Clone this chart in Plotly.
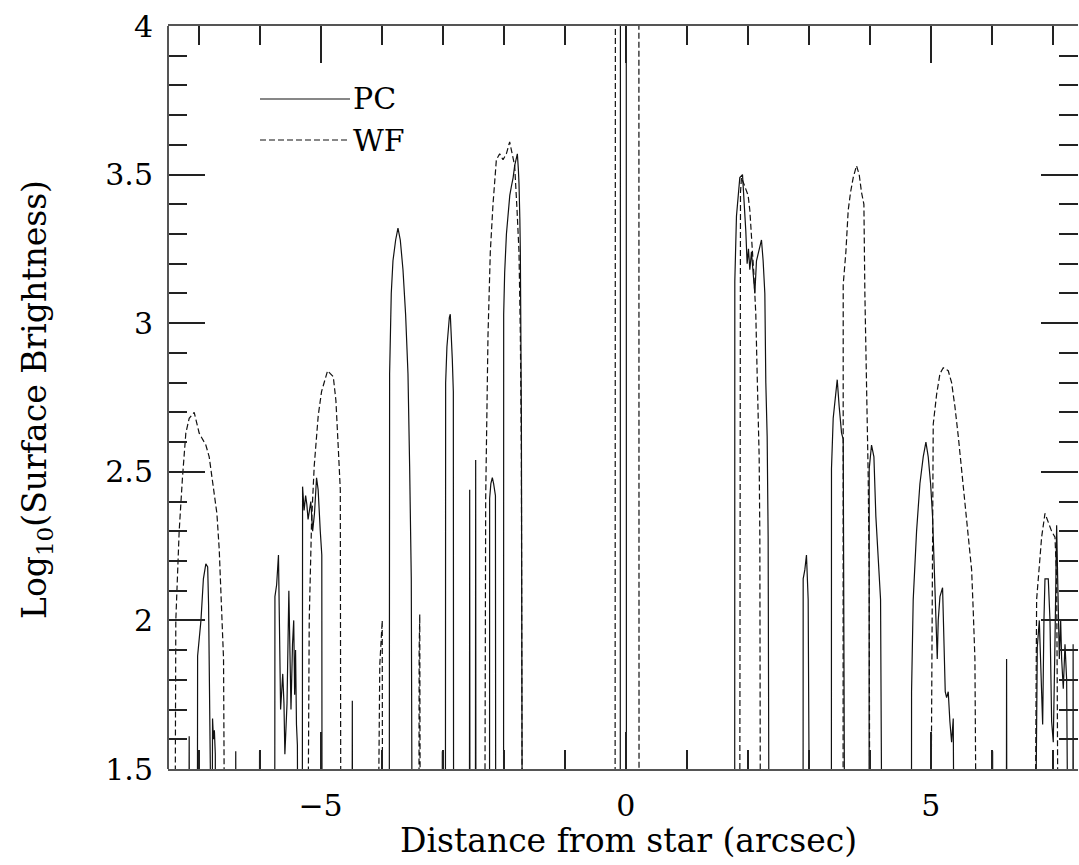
import plotly.graph_objects as go

# Values below the plotted floor (log SB < 1.5) are drawn off the axis
LOW = 1.0
TOP = 4.6  # central saturated region, above the axis top

pc_x = [-7.50,
        -7.160, -7.153, -7.146,
        -7.020, -7.015, -6.960, -6.920, -6.880, -6.850, -6.835, -6.828, -6.810,
        -6.780, -6.770, -6.755, -6.740, -6.725, -6.720,
        -6.395, -6.390, -6.385,
        -6.005, -6.000, -5.995,
        -5.752, -5.748, -5.720, -5.690, -5.675, -5.655, -5.620, -5.600, -5.585, -5.570,
        -5.550, -5.520, -5.500, -5.485, -5.460, -5.440, -5.425, -5.410, -5.395, -5.380, -5.370,
        -5.300, -5.295, -5.270, -5.245, -5.225, -5.205, -5.186, -5.160, -5.130, -5.100,
        -5.066, -5.040, -5.005, -4.980, -4.975,
        -4.485, -4.480, -4.475,
        -3.875, -3.869, -3.842, -3.814, -3.770, -3.732, -3.694, -3.650, -3.607, -3.568,
        -3.541, -3.514, -3.497,
        -3.010, -3.005, -3.000,
        -2.955, -2.951, -2.930, -2.913, -2.890, -2.875, -2.860, -2.842, -2.825, -2.820,
        -2.562, -2.557, -2.552,
        -2.464, -2.459, -2.454,
        -2.232, -2.230, -2.210, -2.186, -2.165, -2.148, -2.135, -2.130,
        -2.002, -2.000, -1.984, -1.955, -1.929, -1.900, -1.874, -1.845, -1.820, -1.795,
        -1.776, -1.760, -1.749, -1.735, -1.727, -1.710, -1.700, -1.694,
        -1.005, -1.000, -0.995,
        -0.090, -0.087, 0.008, 0.011,
        1.785, 1.787, 1.814, 1.842, 1.869, 1.913, 1.934, 1.967, 1.989, 2.011, 2.033,
        2.060, 2.087, 2.115, 2.142, 2.186, 2.224, 2.251, 2.279, 2.295, 2.317, 2.333, 2.350,
        2.905, 2.907, 2.934, 2.961, 2.989, 3.005, 3.016,
        3.369, 3.371, 3.399, 3.426, 3.465, 3.497, 3.536, 3.563, 3.574, 3.579, 3.590,
        3.987, 3.989, 4.027, 4.066, 4.098, 4.137, 4.175, 4.202,
        4.681, 4.683, 4.710, 4.765, 4.820, 4.874, 4.918, 4.956, 4.995, 5.027, 5.049,
        5.082, 5.104, 5.120, 5.148, 5.191, 5.213, 5.235, 5.257, 5.284, 5.311, 5.339,
        5.366, 5.383,
        6.006, 6.011, 6.016,
        6.235, 6.240, 6.245,
        6.705, 6.743, 6.776, 6.803, 6.831, 6.852, 6.869, 6.923, 6.951, 6.978, 7.005,
        7.033, 7.060, 7.077, 7.104, 7.126, 7.142, 7.169, 7.197, 7.224, 7.251,
        7.325, 7.330, 7.335,
        7.41]
pc_y = [LOW,
        LOW, 1.61, LOW,
        LOW, 1.88, 2.00, 2.14, 2.19, 2.18, 2.05, 1.82, LOW,
        LOW, 1.67, 1.60, 1.63, 1.55, LOW,
        LOW, 1.56, LOW,
        LOW, 1.56, LOW,
        LOW, 2.08, 2.12, 2.22, 2.00, 1.70, 1.82, 1.72, 1.55, 1.66,
        1.72, 2.10, 1.80, 1.70, 1.92, 2.00, 1.75, 1.90, 1.65, 1.58, LOW,
        LOW, 2.45, 2.37, 2.42, 2.39, 2.34, 2.37, 2.40, 2.30, 2.36,
        2.48, 2.44, 2.30, 2.22, LOW,
        LOW, 1.73, LOW,
        LOW, 2.83, 3.10, 3.21, 3.28, 3.32, 3.28, 3.18, 3.03, 2.83,
        2.52, 2.14, LOW,
        LOW, 1.56, LOW,
        LOW, 2.80, 2.92, 2.97, 3.02, 3.03, 2.98, 2.88, 2.77, LOW,
        LOW, 2.44, LOW,
        LOW, 2.54, LOW,
        LOW, 2.41, 2.46, 2.48, 2.46, 2.43, 2.42, LOW,
        LOW, 3.03, 3.17, 3.30, 3.375, 3.43, 3.46, 3.49, 3.53, 3.55,
        3.57, 3.52, 3.47, 3.35, 3.24, 2.69, 2.00, LOW,
        LOW, 1.56, LOW,
        LOW, TOP, TOP, LOW,
        LOW, 3.14, 3.36, 3.44, 3.49, 3.50, 3.43, 3.31, 3.20, 3.25, 3.18,
        3.24, 3.17, 3.10, 3.21, 3.25, 3.28, 3.21, 3.10, 2.80, 2.62, 2.28, LOW,
        LOW, 2.14, 2.17, 2.22, 2.07, 1.73, LOW,
        LOW, 2.51, 2.68, 2.74, 2.81, 2.72, 2.63, 2.61, 2.28, 1.81, LOW,
        LOW, 2.51, 2.59, 2.55, 2.35, 2.21, 2.07, LOW,
        LOW, 1.76, 2.07, 2.30, 2.46, 2.55, 2.60, 2.55, 2.46, 2.35, 2.21,
        2.07, 1.87, 2.00, 2.08, 2.11, 1.93, 1.76, 1.74, 1.76, 1.66, 1.59,
        1.67, LOW,
        LOW, 1.56, LOW,
        LOW, 1.87, LOW,
        LOW, 1.91, 2.00, 1.80, 1.65, 2.00, 2.14, 2.14, 2.00, 1.66, 1.59,
        1.93, 2.32, 2.14, 1.87, 2.00, 1.87, 1.77, 1.92, 1.80, LOW,
        LOW, 1.92, LOW,
        LOW]

wf_x = [-7.50,
        -7.388, -7.372, -7.317, -7.263, -7.208, -7.153, -7.071, -6.989, -6.880, -6.825,
        -6.770, -6.699, -6.661, -6.623, -6.590, -6.568,
        -5.213, -5.186, -5.148, -5.104, -5.038, -4.984, -4.885, -4.792, -4.749, -4.710,
        -4.677, -4.667,
        -4.066, -4.030, -3.990, -3.984,
        -3.390, -3.385, -3.375, -3.365,
        -2.312, -2.295, -2.257, -2.219, -2.175, -2.120, -2.066, -2.011, -1.956, -1.902,
        -1.858, -1.820, -1.781, -1.749, -1.727, -1.710, -1.694,
        -0.175, -0.169, 0.215, 0.218,
        1.867, 1.880, 1.896, 1.951, 2.005, 2.033, 2.060, 2.076, 2.098, 2.131, 2.153,
        2.186, 2.197, 2.208,
        3.561, 3.563, 3.607, 3.645, 3.683, 3.727, 3.781, 3.825, 3.863, 3.902, 3.918,
        3.945, 3.973, 3.989, 4.000,
        4.993, 5.038, 5.093, 5.148, 5.202, 5.284, 5.339, 5.393, 5.448, 5.503, 5.557,
        5.612, 5.667, 5.694, 5.721, 5.749,
        6.703, 6.732, 6.776, 6.814, 6.869, 6.923, 6.978, 7.033, 7.060, 7.071, 7.088,
        7.41]
wf_y = [LOW,
        LOW, 2.00, 2.30, 2.48, 2.63, 2.68, 2.70, 2.63, 2.59, 2.55,
        2.47, 2.36, 2.24, 2.07, 1.87, LOW,
        LOW, 2.00, 2.33, 2.52, 2.69, 2.77, 2.84, 2.82, 2.74, 2.58,
        2.44, LOW,
        LOW, 1.85, 2.00, LOW,
        LOW, 1.90, 2.02, LOW,
        LOW, 2.41, 2.96, 3.24, 3.40, 3.55, 3.57, 3.55, 3.57, 3.61,
        3.56, 3.53, 3.38, 3.24, 2.96, 2.55, LOW,
        LOW, TOP, TOP, LOW,
        LOW, 3.44, 3.49, 3.46, 3.43, 3.38, 3.31, 3.24, 3.17, 3.03, 2.83,
        2.55, 2.28, LOW,
        LOW, 3.13, 3.24, 3.38, 3.44, 3.49, 3.53, 3.50, 3.44, 3.40, 3.10,
        2.83, 2.48, 2.14, LOW,
        LOW, 2.66, 2.76, 2.83, 2.85, 2.84, 2.80, 2.72, 2.62, 2.51, 2.41,
        2.30, 2.17, 2.03, 1.87, LOW,
        LOW, 2.07, 2.19, 2.28, 2.36, 2.33, 2.30, 2.28, 2.14, 1.73, LOW,
        LOW]

x_tick_vals = [-5, 0, 5]
x_tick_text = ["\u22125", "0", "5"]
y_tick_vals = [1.5, 2, 2.5, 3, 3.5, 4]
y_tick_text = ["1.5", "2", "2.5", "3", "3.5", "4"]
series_names = ["PC", "WF"]

FONT = "DejaVu Serif"
INK = "#111111"
FRAME = "#555555"
TICKC = "#222222"
DASH = "6px,3px"

fig = go.Figure()
fig.add_trace(go.Scatter(x=pc_x, y=pc_y, mode="lines", name=series_names[0],
                         line=dict(color=INK, width=1.2)))
fig.add_trace(go.Scatter(x=wf_x, y=wf_y, mode="lines", name=series_names[1],
                         line=dict(color=INK, width=1.2, dash=DASH)))

L, R, T, B = 168, 1, 26, 96
W, H = 1079, 865
pw, ph = W - L - R, H - T - B

def px2paper_x(px):
    return (px - L) / pw

def px2paper_y(py):
    return (H - B - py) / ph

fig.update_layout(
    width=W, height=H,
    margin=dict(l=L, r=R, t=T, b=B, pad=0),
    plot_bgcolor="white", paper_bgcolor="white",
    showlegend=False,
    font=dict(family=FONT, color="black", size=30),
)
fig.update_xaxes(
    range=[-7.5, 7.41], tickmode="array", tickvals=x_tick_vals, ticktext=x_tick_text,
    ticks="inside", ticklen=37, tickwidth=1.5, tickcolor=TICKC,
    showline=True, linewidth=2, linecolor=FRAME, mirror="ticks",
    showgrid=False, zeroline=False,
    tickfont=dict(family=FONT, size=30, color="black"),
    ticklabelstandoff=9,
    minor=dict(tickmode="linear", tick0=0, dtick=1, ticks="inside", ticklen=19,
               tickwidth=1.5, tickcolor=TICKC, showgrid=False),
)
fig.update_yaxes(
    range=[1.5, 4], tickmode="array", tickvals=y_tick_vals, ticktext=y_tick_text,
    ticks="inside", ticklen=37, tickwidth=1.5, tickcolor=TICKC,
    showline=False, mirror="ticks",
    showgrid=False, zeroline=False,
    tickfont=dict(family=FONT, size=30, color="black"),
    ticklabelstandoff=14,
    minor=dict(tickmode="linear", tick0=0, dtick=0.1, ticks="inside", ticklen=19,
               tickwidth=1.5, tickcolor=TICKC, showgrid=False),
)

# left frame edge (the right edge is cropped off in the original figure)
fig.add_shape(type="line", xref="paper", yref="paper", x0=0, x1=0, y0=0, y1=1,
              line=dict(color=FRAME, width=2), layer="above")

# axis titles
fig.add_annotation(text="Distance from star (arcsec)", xref="paper", yref="paper",
                   x=px2paper_x(628), y=px2paper_y(840), xanchor="center", yanchor="middle",
                   showarrow=False, font=dict(family=FONT, size=33, color="black"))
fig.add_annotation(text="Log<sub>10</sub>(Surface Brightness)", xref="paper", yref="paper",
                   x=px2paper_x(36), y=px2paper_y(400), xanchor="center", yanchor="middle",
                   textangle=-90, showarrow=False,
                   font=dict(family=FONT, size=33, color="black"))

# in-plot key
for name, py, dash in [(series_names[0], 99, "solid"), (series_names[1], 140, DASH)]:
    fig.add_shape(type="line", xref="paper", yref="paper",
                  x0=px2paper_x(260), x1=px2paper_x(350), y0=px2paper_y(py), y1=px2paper_y(py),
                  line=dict(color=INK, width=1.2, dash=dash))
    fig.add_annotation(text=name, xref="paper", yref="paper",
                       x=px2paper_x(351), y=px2paper_y(py), xanchor="left", yanchor="middle",
                       showarrow=False, font=dict(family=FONT, size=30, color="black"))

fig.write_html("out.html", config={"displayModeBar": False},
               post_script="document.body.style.margin='0px';")
